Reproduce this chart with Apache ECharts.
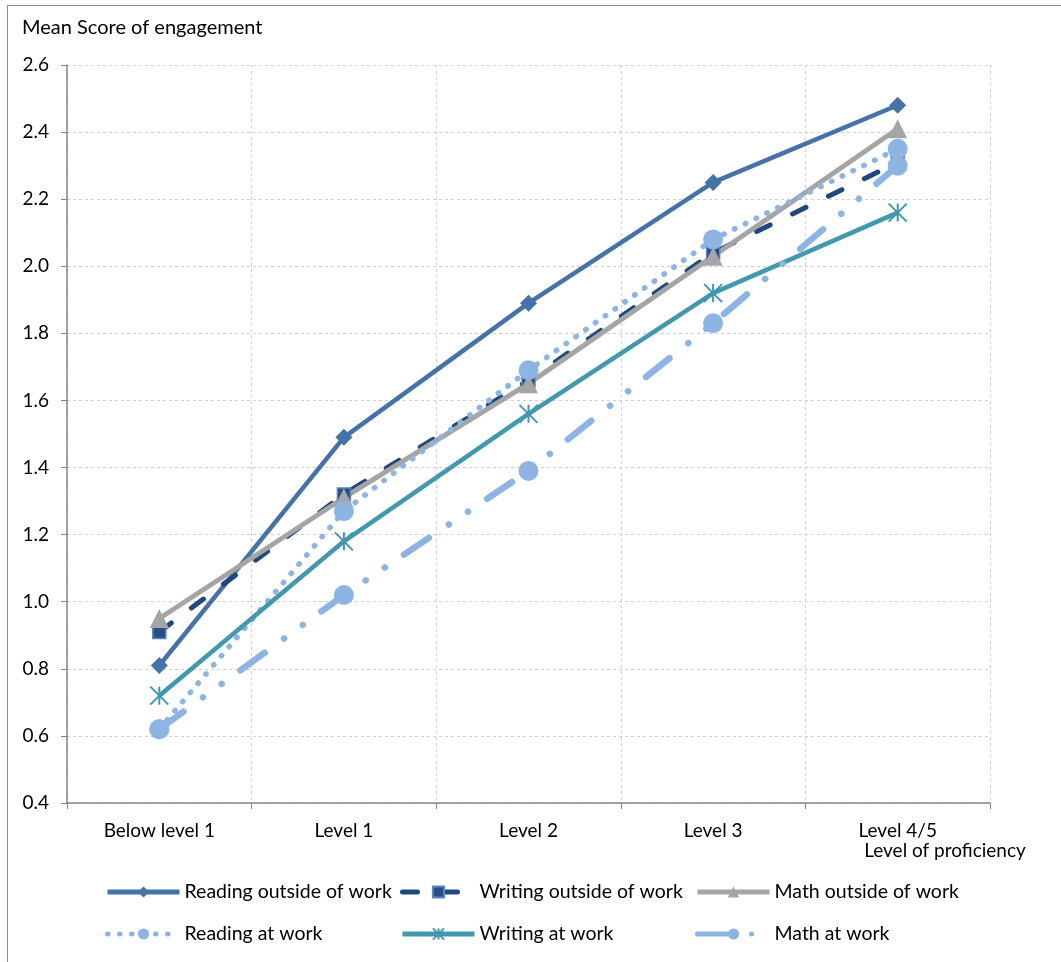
<!DOCTYPE html>
<html><head><meta charset="utf-8">
<script src="https://cdn.jsdelivr.net/npm/echarts@6/dist/echarts.min.js"></script>
<style>
html,body{margin:0;padding:0;background:#fff;}
#frame{position:absolute;left:7px;top:5px;width:1100px;height:1000px;border:1.5px solid #8c8c8c;}
#chart{position:absolute;left:0;top:0;width:1061px;height:962px;}
</style></head>
<body>
<div id="frame"></div>
<div id="chart"></div>
<script>
const categories = ['Below level 1','Level 1','Level 2','Level 3','Level 4/5'];
const readingOutside = [0.81, 1.49, 1.89, 2.25, 2.48];
const writingOutside = [0.91, 1.32, 1.66, 2.04, 2.31];
const mathOutside    = [0.95, 1.31, 1.65, 2.03, 2.41];
const readingAtWork  = [0.62, 1.27, 1.69, 2.08, 2.35];
const writingAtWork  = [0.72, 1.18, 1.56, 1.92, 2.16];
const mathAtWork     = [0.62, 1.02, 1.39, 1.83, 2.30];
const yTitle = 'Mean Score of engagement';
const xTitle = 'Level of proficiency';

const FONT = 'Lato';
const chart = echarts.init(document.getElementById('chart'));
const legendBase = {orient:'vertical', itemWidth:72, itemHeight:14, itemGap:22, padding:0,
  lineStyle:{width:5},
  textStyle:{fontFamily:FONT, fontSize:19.5, color:'#000', padding:[0,0,0,0]}};
chart.setOption({
  animation:false,
  backgroundColor:'transparent',
  grid:{left:67, right:71, top:65, bottom:159},
  xAxis:{type:'category', data:categories, boundaryGap:true,
    name:xTitle, nameLocation:'end', nameGap:-45,
    nameTextStyle:{fontFamily:FONT, fontSize:19, color:'#000', align:'center', verticalAlign:'top', padding:[38,0,0,0]},
    axisLine:{lineStyle:{color:'#868686', width:1.5}},
    axisTick:{show:true, length:6, lineStyle:{color:'#868686'}},
    axisLabel:{fontFamily:FONT, fontSize:19, color:'#000', margin:18},
    splitLine:{show:true, lineStyle:{color:'#d0d0d0', type:[3,3]}}},
  yAxis:{type:'value', min:0.4, max:2.6, interval:0.2,
    name:yTitle, nameLocation:'end', nameGap:27,
    nameTextStyle:{fontFamily:FONT, fontSize:20, color:'#000', align:'left', padding:[0,0,0,-45]},
    axisLine:{show:true, lineStyle:{color:'#868686', width:1.5}},
    axisTick:{show:true, length:6, inside:false, lineStyle:{color:'#868686'}},
    axisLabel:{fontFamily:FONT, fontSize:19, color:'#000', margin:18, formatter:v=>v.toFixed(1)},
    splitLine:{show:true, lineStyle:{color:'#d0d0d0', type:[3,3]}}},
  legend:[
    Object.assign({left:105, top:882, data:['Reading outside of work','Reading at work']}, legendBase),
    Object.assign({left:400, top:882, data:['Writing outside of work','Writing at work']}, legendBase),
    Object.assign({left:695, top:882, data:['Math outside of work','Math at work']}, legendBase)
  ],
  series:[
    {name:'Reading outside of work', type:'line', data:readingOutside,
      symbol:'diamond', symbolSize:17, itemStyle:{color:'#4572a7'},
      lineStyle:{color:'#4572a7', width:4.5}},
    {name:'Writing outside of work', type:'line', data:writingOutside,
      symbol:'rect', symbolSize:13, itemStyle:{color:'#264f86', borderColor:'#5a86c0', borderWidth:1.5},
      lineStyle:{color:'#1f497d', width:5, type:[15,25], cap:'round'}},
    {name:'Math outside of work', type:'line', data:mathOutside,
      symbol:'triangle', symbolSize:19, itemStyle:{color:'#a5a5a5'},
      lineStyle:{color:'#a5a5a5', width:5}},
    {name:'Reading at work', type:'line', data:readingAtWork,
      symbol:'circle', symbolSize:20, itemStyle:{color:'#8eb4e3'},
      lineStyle:{color:'#8eb4e3', width:5.5, type:[0.5,11.5], cap:'round'}},
    {name:'Writing at work', type:'line', data:writingAtWork,
      symbol:'path://M0,0L10,10M10,0L0,10M5,0L5,10', symbolSize:18,
      itemStyle:{color:'rgba(0,0,0,0)', borderColor:'#4198af', borderWidth:2},
      lineStyle:{color:'#4198af', width:4.5}},
    {name:'Math at work', type:'line', data:mathAtWork,
      symbol:'circle', symbolSize:20, itemStyle:{color:'#8eb4e3'},
      lineStyle:{color:'#8eb4e3', width:6.5, type:[30,24,0.1,23,0.1,23], cap:'round'}}
  ]
});
</script>
</body></html>
